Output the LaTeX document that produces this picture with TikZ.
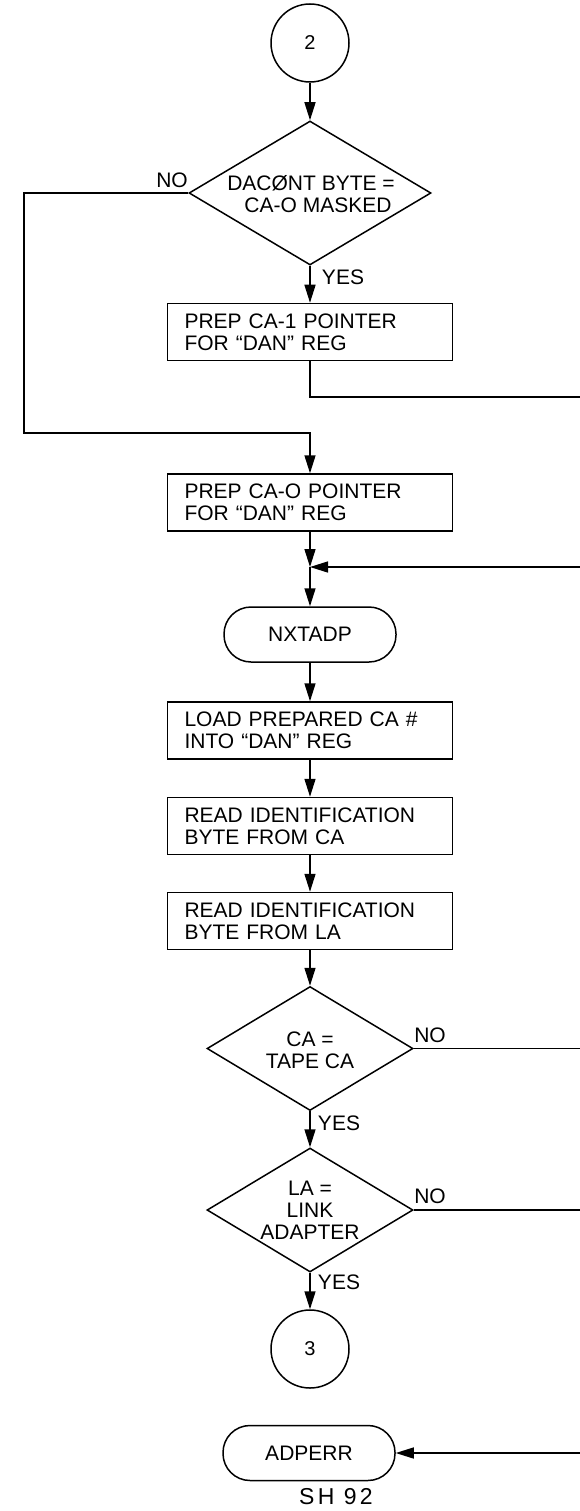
\documentclass[tikz,border=0pt]{standalone}
\usepackage{fontspec}
\setmainfont{Liberation Sans}
\newfontfamily\widefont[LetterSpace=14]{Liberation Sans}
\usetikzlibrary{arrows.meta,shapes.geometric}
\begin{document}
\begin{tikzpicture}[x=1pt,y=-1pt,
  line width=1.5pt,
  every node/.style={font=\fontsize{21}{22}\selectfont},
  proc/.style={draw, rectangle, text width=251pt, inner xsep=17pt, inner ysep=0pt, minimum height=57pt, align=left},
  dec/.style={draw, diamond, inner sep=0pt},
  dectext/.style={align=center, inner sep=0pt},
  term/.style={draw, rectangle, rounded corners=27pt, minimum width=172pt, minimum height=55pt, inner sep=0pt},
  conn/.style={draw, circle, minimum size=78pt, inner sep=0pt, font=\fontsize{20}{22}\selectfont},
  lbl/.style={inner sep=0pt},
  arr/.style={-{Triangle[length=18pt,width=11pt]}},
]
\useasboundingbox (0,0) rectangle (580,1511);

% nodes
\node[conn] (c2) at (310,43) {2};
\node[dec, minimum width=242pt, minimum height=144pt] (d1) at (310,193) {};
\node[dectext] (d1t) at (311,194) {DACØNT BYTE =\\\hspace*{14pt}CA-O MASKED};
\node[proc] (b1) at (310,332) {PREP CA-1 POINTER\\FOR “DAN” REG};
\node[proc] (b2) at (310,502.5) {PREP CA-O POINTER\\FOR “DAN” REG};
\node[term] (nx) at (310,634.5) {NXTADP};
\node[proc] (b3) at (310,730.5) {LOAD PREPARED CA \#\\INTO “DAN” REG};
\node[proc] (b4) at (310,826) {READ IDENTIFICATION\\BYTE FROM CA};
\node[proc] (b5) at (310,921) {READ IDENTIFICATION\\BYTE FROM LA};
\node[dec, minimum width=206pt, minimum height=124pt] (d2) at (310,1048.5) {};
\node[dectext] (d2t) at (310,1050) {CA =\\TAPE CA};
\node[dec, minimum width=206pt, minimum height=124pt] (d3) at (310,1210) {};
\node[dectext] (d3t) at (310,1210) {LA =\\LINK\\ADAPTER};
\node[conn] (c3) at (310,1349) {3};
\node[term] (ae) at (309,1453) {ADPERR};

% labels
\node[lbl] (no1) at (172,180) {NO};
\node[lbl] (yes1) at (343,277) {YES};
\node[lbl] (no2) at (430,1035) {NO};
\node[lbl] (yes2) at (339,1123) {YES};
\node[lbl] (no3) at (430,1196) {NO};
\node[lbl] (yes3) at (339,1282) {YES};
\node[lbl,font=\fontsize{23}{24}\selectfont] (sh) at (336,1497) {\widefont SH 92};

% free ends
\coordinate (nl) at (24,433);
\coordinate (r1) at (580,397);
\coordinate (j1) at (310,567);
\coordinate (r2) at (580,567);
\coordinate (r3) at (580,1048.5);
\coordinate (r4) at (580,1210);
\coordinate (r5) at (580,1453);

% connectors
\draw[arr] (c2.south) -- (d1.north);
\draw[arr] (d1.south) -- (b1.north);
\draw[arr] (d1.west) -| (nl) -| (b2.north);
\draw (b1.south) |- (r1);
\draw[arr] (b2.south) -- (j1);
\draw[arr] (r2) -- (j1);
\draw[arr] (j1) -- (nx.north);
\draw[arr] (nx.south) -- (b3.north);
\draw[arr] (b3.south) -- (b4.north);
\draw[arr] (b4.south) -- (b5.north);
\draw[arr] (b5.south) -- (d2.north);
\draw (d2.east) -- (r3);
\draw[arr] (d2.south) -- (d3.north);
\draw (d3.east) -- (r4);
\draw[arr] (d3.south) -- (c3.north);
\draw[arr] (r5) -- (ae.east);
\end{tikzpicture}
\end{document}
